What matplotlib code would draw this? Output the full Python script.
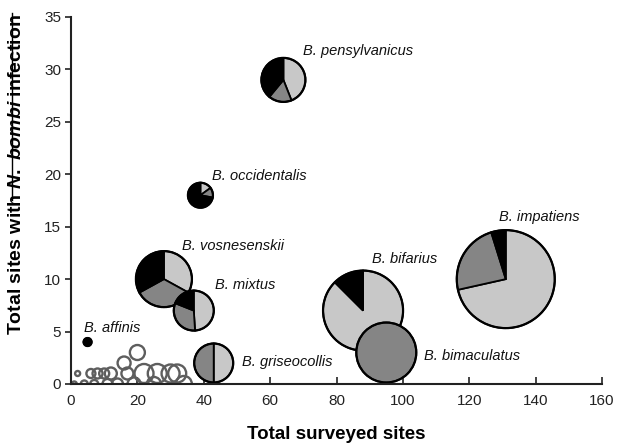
import matplotlib.pyplot as plt
import matplotlib.transforms as mtransforms
from matplotlib.patches import Wedge, Circle
from matplotlib.lines import Line2D

plt.rcParams['font.family'] = ['Liberation Sans', 'DejaVu Sans']
plt.rcParams['mathtext.fontset'] = 'custom'
plt.rcParams['mathtext.it'] = 'Liberation Sans:italic:bold'
plt.rcParams['mathtext.rm'] = 'Liberation Sans:bold'

# species with pies: surveyed sites (x), infected sites (y)
species = ['B. pensylvanicus', 'B. occidentalis', 'B. vosnesenskii', 'B. mixtus',
           'B. griseocollis', 'B. bifarius', 'B. bimaculatus', 'B. impatiens',
           'B. affinis']
surveyed = [64, 39, 28, 37, 43, 88, 95, 131, 5]
infected = [29, 18, 10, 7, 2, 7, 3, 10, 4]
# slice shares, clockwise from 12 o'clock: light, grey, black
share_light = [0.44, 0.15, 0.33, 0.49, 0.50, 0.875, 0.0, 0.715, 0.0]
share_grey = [0.17, 0.13, 0.34, 0.32, 0.50, 0.0, 1.0, 0.237, 0.0]
share_black = [0.39, 0.72, 0.33, 0.19, 0.0, 0.125, 0.0, 0.048, 1.0]

# species without infection (open circles)
open_x = [1, 2, 4, 6, 7, 8, 10, 11, 12, 14, 16, 17, 20, 19, 22, 25, 26, 30, 32, 34]
open_y = [0, 1, 0, 1, 0, 1, 1, 0, 1, 0, 2, 1, 3, 0, 1, 0, 1, 1, 1, 0]

# marker radii in pixels
pie_r = [22, 12.5, 28, 20, 19.5, 40, 30, 49, 4]
open_r = [2.5, 2.5, 3.5, 4.5, 4, 5, 5, 5, 6, 5.5, 6.5, 6, 7.5, 6.5, 9.5, 7, 9.5, 9, 9, 8]

# label anchor (data coords, left / centre)
label_x = [69.9, 42.5, 33.4, 43.4, 51.5, 90.7, 106.3, 129.0, 3.9]
label_y = [31.8, 19.8, 13.2, 9.4, 2.1, 11.9, 2.7, 15.9, 5.3]

colors = ['#c8c8c8', '#858585', '#000000']

fig = plt.figure(figsize=(6.2, 4.47), dpi=100)
ax = fig.add_axes([0.1145, 0.141, 0.8565, 0.821])
ax.set_xlim(0, 160)
ax.set_ylim(0, 35)


def marker_trans(x, y):
    return fig.dpi_scale_trans + mtransforms.ScaledTranslation(x, y, ax.transData)


for x, y, r in zip(open_x, open_y, open_r):
    ax.add_patch(Circle((0, 0), r / 100, transform=marker_trans(x, y),
                        facecolor='none', edgecolor='#5e5e5e', lw=1.7, zorder=2))

for i in range(len(species)):
    x, y, r = surveyed[i], infected[i], pie_r[i] / 100
    tr = marker_trans(x, y)
    start = 0.0
    for share, c in zip([share_light[i], share_grey[i], share_black[i]], colors):
        if share <= 0:
            continue
        end = start + share * 360
        ax.add_patch(Wedge((0, 0), r, 90 - end, 90 - start, transform=tr,
                           facecolor=c, edgecolor='black', lw=1.3, zorder=3 + i))
        start = end
    ax.add_patch(Circle((0, 0), r, transform=tr, facecolor='none',
                        edgecolor='black', lw=1.6, zorder=3 + i))
    ax.text(label_x[i], label_y[i], species[i], style='italic', fontsize=10.5,
            ha='left', va='center', color='#111111', zorder=20)

for s in ['top', 'right']:
    ax.spines[s].set_visible(False)
for s in ['left', 'bottom']:
    ax.spines[s].set_linewidth(1.5)
    ax.spines[s].set_color('#222222')
    ax.spines[s].set_zorder(30)

ax.set_xticks(range(0, 161, 20))
ax.set_yticks(range(0, 36, 5))
ax.tick_params(axis='x', direction='in', length=5, width=1.2, labelsize=11,
               pad=7, colors='#222222')
ax.tick_params(axis='y', direction='out', length=4, width=1.2, labelsize=11,
               pad=3, colors='#222222')

ax.set_xlabel('Total surveyed sites', fontsize=13.5, fontweight='bold', labelpad=13)
fig.text(0.027, 0.609, r'Total sites with $\mathit{N.\ bombi}$ infection',
         rotation=90, ha='center', va='center', fontsize=14, fontweight='bold')
fig.add_artist(Line2D([0.0195, 0.0195], [1 - 13 / 447, 1 - 200 / 447],
                      transform=fig.transFigure, color='black', lw=1))

fig.savefig('out.png', dpi=100)
